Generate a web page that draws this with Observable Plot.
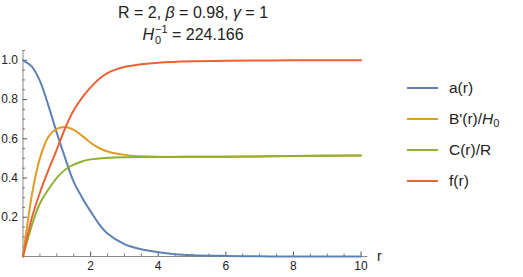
<!DOCTYPE html>
<html>
<head>
<meta charset="utf-8">
<script src="https://cdn.jsdelivr.net/npm/d3@7"></script>
<script src="https://cdn.jsdelivr.net/npm/@observablehq/plot@0.6"></script>
<style>
  html, body { margin: 0; padding: 0; background: #fff; }
  #wrap { position: relative; width: 523px; height: 277px; font-family: "Liberation Sans", Arial, sans-serif; color: #222; }
  #title { position: absolute; left: 0; width: 386px; top: 0; height: 46px; text-align: center; font-size: 16px; line-height: 22px; }
  #legend { position: absolute; left: 407px; top: 0; font-size: 15.5px; }
  .row { position: absolute; left: 0; height: 20px; white-space: nowrap; }
  .sw { position: absolute; left: 0; top: 9px; width: 31px; height: 2.2px; }
  .lab { position: absolute; left: 42px; top: 0; line-height: 20px; }
  #xlab { position: absolute; left: 377px; top: 248px; font-size: 14px; }
  #chart { position: absolute; left: 0; top: 46px; }
  .ss { display: inline-block; vertical-align: -4px; line-height: 11px; font-size: 11px; text-align: left; margin-left: 1px; }
  .ss span { display: block; }
</style>
</head>
<body>
<div id="wrap">
  <div id="title">
    <div style="margin-top:2px">R = 2, <i>β</i> = 0.98, <i>γ</i> = 1</div>
    <div><i>H</i><span class="ss"><span>−1</span><span>0</span></span> = 224.166</div>
  </div>
  <div id="chart"></div>
  <div id="legend"></div>
  <div id="xlab">r</div>
</div>
<script>
// ---- data ----
const aR    = [0, 0.25, 0.5, 0.75, 1.0, 1.25, 1.5, 1.75, 2.0, 2.25, 2.5, 3.0, 3.5, 4.0, 4.5, 5.0, 6.0, 7.0, 8.0, 10.0];
const aVal  = [1.0, 0.97, 0.895, 0.77, 0.63, 0.5, 0.38, 0.3, 0.23, 0.165, 0.117, 0.063, 0.037, 0.022, 0.012, 0.007, 0.003, 0.001, 0.0, 0.0];

const bR    = [0, 0.15, 0.3, 0.5, 0.75, 1.0, 1.25, 1.5, 1.75, 2.0, 2.25, 2.5, 3.0, 3.5, 4.0, 5.0, 6.0, 8.0, 10.0];
const bVal  = [0, 0.19, 0.35, 0.5, 0.61, 0.65, 0.66, 0.645, 0.615, 0.58, 0.553, 0.535, 0.518, 0.511, 0.508, 0.508, 0.509, 0.512, 0.515];

const cR    = [0, 0.3, 0.5, 0.8, 1.1, 1.4, 1.7, 2.0, 2.5, 3.0, 4.0, 5.0, 6.0, 8.0, 10.0];
const cVal  = [0, 0.18, 0.27, 0.354, 0.42, 0.46, 0.482, 0.495, 0.503, 0.506, 0.507, 0.508, 0.509, 0.512, 0.515];

const fR    = [0, 0.25, 0.5, 0.75, 1.0, 1.25, 1.5, 1.8, 2.0, 2.25, 2.5, 2.75, 3.0, 3.5, 4.0, 5.0, 6.0, 8.0, 10.0];
const fVal  = [0, 0.19, 0.325, 0.44, 0.545, 0.655, 0.745, 0.821, 0.862, 0.905, 0.935, 0.953, 0.966, 0.98, 0.988, 0.995, 0.998, 1.0, 1.0];

const seriesNames  = ["a(r)", "B'(r)/H0", "C(r)/R", "f(r)"];
const seriesColors = ["#5E81B5", "#E19C24", "#8FB032", "#EB6235"];

const xMajor = [2, 4, 6, 8, 10];
const xMinor = [0.5, 1, 1.5, 2.5, 3, 3.5, 4.5, 5, 5.5, 6.5, 7, 7.5, 8.5, 9, 9.5];
const yMajor = [0.2, 0.4, 0.6, 0.8, 1.0];
const yMinor = [0.05, 0.1, 0.15, 0.25, 0.3, 0.35, 0.45, 0.5, 0.55, 0.65, 0.7, 0.75, 0.85, 0.9, 0.95, 1.05];

// ---- build tables ----
const toRows = (rs, vs, s) => rs.map((r, i) => ({r, v: vs[i], s}));
const series = [
  toRows(aR, aVal, seriesNames[0]),
  toRows(bR, bVal, seriesNames[1]),
  toRows(cR, cVal, seriesNames[2]),
  toRows(fR, fVal, seriesNames[3])
];

const axisColor = "#8a8a8a";
const textColor = "#222";

const chart = Plot.plot({
  width: 523,
  height: 231,
  marginLeft: 22.5,
  marginRight: 155.7,
  marginTop: 4,
  marginBottom: 21,
  style: {fontFamily: "'Liberation Sans', Arial, sans-serif", fontSize: "12px", color: textColor, background: "white"},
  x: {domain: [0, 10.2], label: null},
  y: {domain: [0, 1.05], label: null},
  marks: [
    // axis lines
    Plot.ruleY([0], {stroke: axisColor, strokeWidth: 1}),
    Plot.ruleX([0], {stroke: axisColor, strokeWidth: 1}),
    // x ticks (pointing up)
    Plot.axisX({ticks: xMajor, tickSize: -4.5, tickFormat: () => "", stroke: "#555", strokeWidth: 1, label: null}),
    Plot.axisX({ticks: xMinor, tickSize: -2.5, tickFormat: () => "", stroke: "#555", strokeWidth: 0.8, label: null}),
    Plot.axisX({ticks: xMajor, tickSize: 0, tickPadding: 5, tickFormat: d => String(d), fill: textColor, label: null}),
    // y ticks (pointing right)
    Plot.axisY({ticks: yMajor, tickSize: -4.5, tickFormat: () => "", stroke: "#555", strokeWidth: 1, label: null}),
    Plot.axisY({ticks: yMinor, tickSize: -2.5, tickFormat: () => "", stroke: "#555", strokeWidth: 0.8, label: null}),
    Plot.axisY({ticks: yMajor, tickSize: 0, tickPadding: 5, tickFormat: d => d.toFixed(1), fill: textColor, label: null}),
    // curves
    ...series.map((rows, i) => Plot.line(rows, {x: "r", y: "v", stroke: seriesColors[i], strokeWidth: 2, curve: "catmull-rom"}))
  ]
});
document.getElementById("chart").appendChild(chart);

// ---- legend ----
const legendTops = [78, 109, 140, 171];
const legendHTML = [
  "a(r)",
  "B'(r)/<i>H</i><sub style='font-size:11px;vertical-align:-3px'>0</sub>",
  "C(r)/R",
  "f(r)"
];
const legend = document.getElementById("legend");
seriesNames.forEach((n, i) => {
  const row = document.createElement("div");
  row.className = "row";
  row.style.top = legendTops[i] + "px";
  row.innerHTML = `<div class="sw" style="background:${seriesColors[i]}"></div><div class="lab">${legendHTML[i]}</div>`;
  legend.appendChild(row);
});
</script>
</body>
</html>
